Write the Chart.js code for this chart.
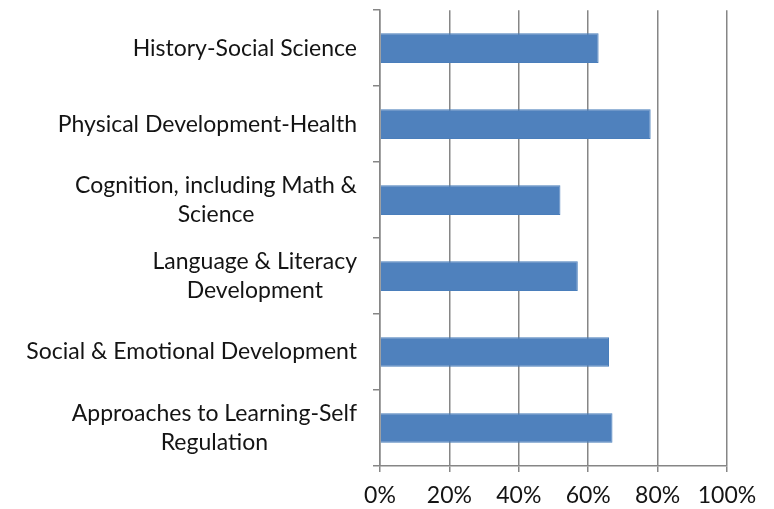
<!DOCTYPE html>
<html>
<head>
<meta charset="utf-8">
<script src="https://cdn.jsdelivr.net/npm/chart.js@4/dist/chart.umd.min.js"></script>
<style>
    html, body { margin: 0; padding: 0; background: #ffffff; }
    #wrap { position: relative; width: 774px; height: 509px; }
</style>
</head>
<body>
<div id="wrap"><canvas id="myChart"></canvas></div>
<script>
// categories, top to bottom
const categories = [
    ['History-Social Science'],
    ['Physical Development-Health'],
    ['Cognition, including Math &', 'Science'],
    ['Language & Literacy', 'Development'],
    ['Social & Emotional Development'],
    ['Approaches to Learning-Self', 'Regulation']
];
// percent values
const values = [63, 78, 52, 57, 66, 67];
const xTickLabels = ['0%', '20%', '40%', '60%', '80%', '100%'];

const fontFamily = 'Lato, "Open Sans", sans-serif';
const labelFont = '23px ' + fontFamily;
const gridColor = '#868686';

// y labels: right-aligned block, lines centred inside the block
const labelPlugin = {
    id: 'centredLabels',
    afterDraw(chart) {
        const yScale = chart.scales.y;
        const ctx = chart.ctx;
        const rightX = 357;
        const lineH = 29;
        ctx.save();
        ctx.font = labelFont;
        ctx.fillStyle = '#141414';
        ctx.textAlign = 'center';
        ctx.textBaseline = 'middle';
        for (let i = 0; i < categories.length; i++) {
            let lines = categories[i];
            let maxW = 0;
            for (let j = 0; j < lines.length; j++) {
                maxW = Math.max(maxW, ctx.measureText(lines[j]).width);
            }
            let cx = rightX - maxW / 2;
            let cy = yScale.getPixelForTick(i);
            for (let j = 0; j < lines.length; j++) {
                ctx.fillText(lines[j], cx, cy + (j - (lines.length - 1) / 2) * lineH);
            }
        }
        ctx.restore();
    }
};

const ctx = document.getElementById('myChart').getContext('2d');
const myChart = new Chart(ctx, {
    type: 'bar',
    data: {
        labels: categories,
        datasets: [{
            data: values,
            backgroundColor: '#4f81bd',
            borderColor: '#4a7ebb',
            borderWidth: 1,
            barPercentage: 0.39,
            categoryPercentage: 1
        }]
    },
    options: {
        indexAxis: 'y',
        responsive: true,
        maintainAspectRatio: false,
        animation: false,
        layout: { padding: { top: 7, right: 47, left: 0, bottom: 0 } },
        plugins: {
            legend: { display: false },
            tooltip: { enabled: false }
        },
        scales: {
            x: {
                min: 0,
                max: 100,
                ticks: {
                    stepSize: 20,
                    padding: 10,
                    color: '#141414',
                    font: { family: fontFamily, size: 23 },
                    callback: (v, i) => xTickLabels[i]
                },
                grid: { color: gridColor, lineWidth: 1.5, tickLength: 6, tickColor: gridColor },
                border: { color: gridColor, width: 1.5 },
                afterFit(scale) { scale.height = 43; }
            },
            y: {
                // labels drawn by labelPlugin
                ticks: { callback: () => '' },
                grid: { drawOnChartArea: false, offset: true, tickLength: 7, color: gridColor, lineWidth: 1.5 },
                border: { color: gridColor, width: 1.5 },
                afterFit(scale) { scale.width = 380; }
            }
        }
    },
    plugins: [labelPlugin]
});
</script>
</body>
</html>
